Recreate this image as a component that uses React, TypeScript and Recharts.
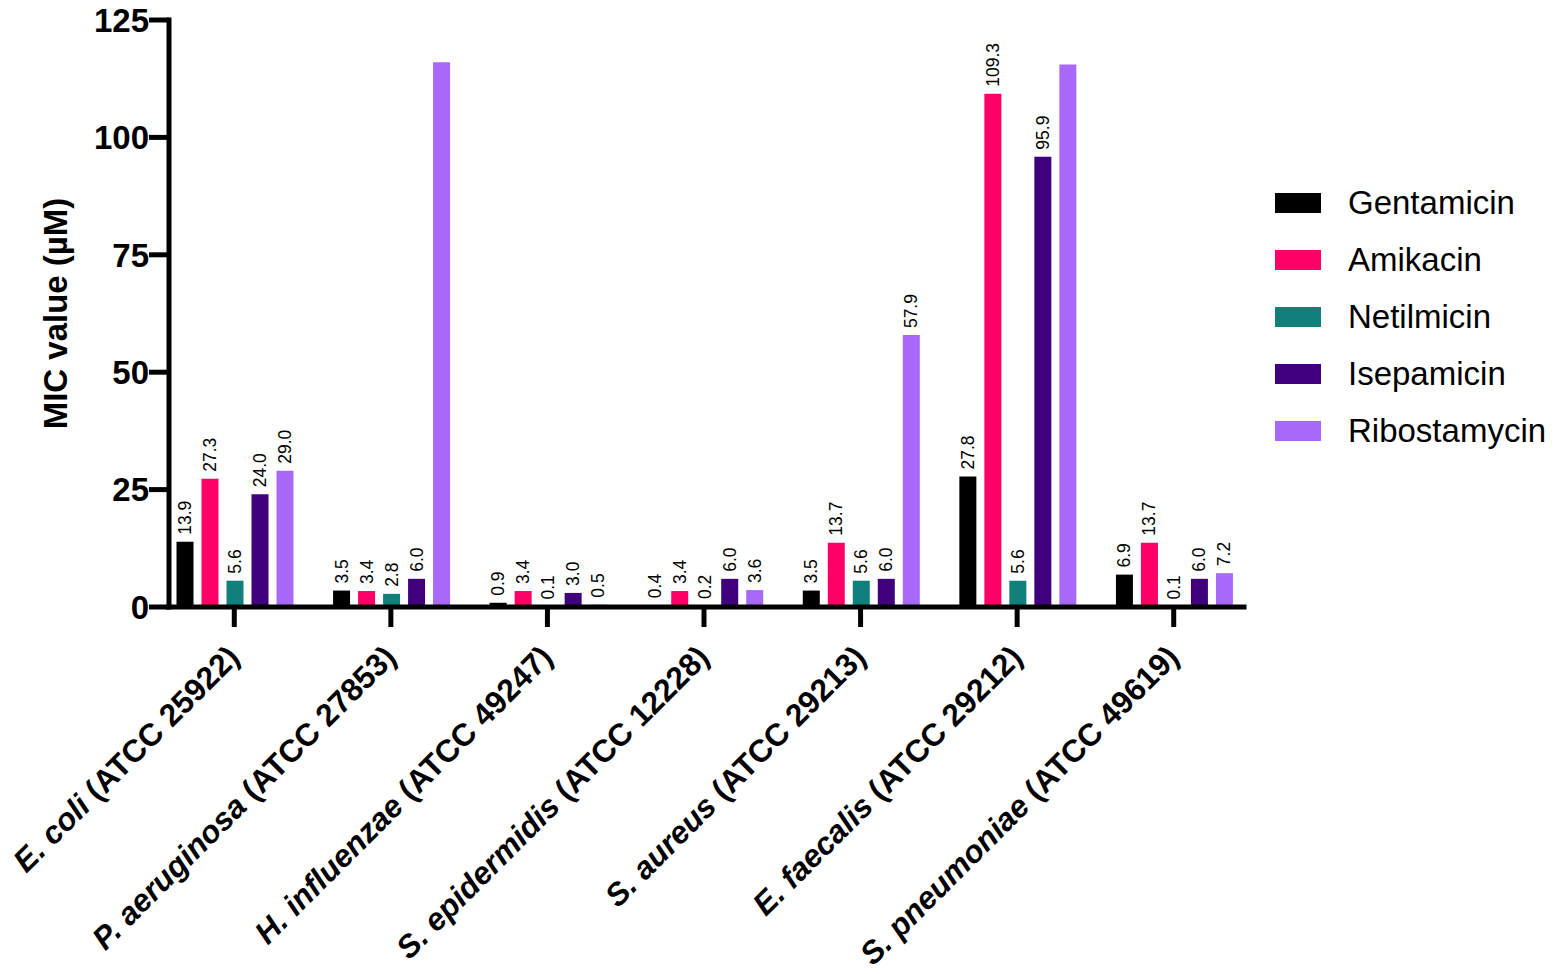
import { BarChart, Bar, XAxis, YAxis, LabelList } from "recharts";

const SPECIES = [
  "E. coli",
  "P. aeruginosa",
  "H. influenzae",
  "S. epidermidis",
  "S. aureus",
  "E. faecalis",
  "S. pneumoniae",
];
const STRAINS = [
  "ATCC 25922",
  "ATCC 27853",
  "ATCC 49247",
  "ATCC 12228",
  "ATCC 29213",
  "ATCC 29212",
  "ATCC 49619",
];

const GENTAMICIN = [13.9, 3.5, 0.9, 0.4, 3.5, 27.8, 6.9];
const AMIKACIN = [27.3, 3.4, 3.4, 3.4, 13.7, 109.3, 13.7];
const NETILMICIN = [5.6, 2.8, 0.1, 0.2, 5.6, 5.6, 0.1];
const ISEPAMICIN = [24.0, 6.0, 3.0, 6.0, 6.0, 95.9, 6.0];
const RIBOSTAMYCIN = [29.0, 116.0, 0.5, 3.6, 57.9, 115.5, 7.2];
// the two off-scale ribostamycin bars carry no value label in the figure
const RIBOSTAMYCIN_LABELLED = [true, false, true, true, true, false, true];

const Y_TICKS = [0, 25, 50, 75, 100, 125];

const SERIES = [
  { key: "gentamicin", name: "Gentamicin", color: "#000000" },
  { key: "amikacin", name: "Amikacin", color: "#FF0066" },
  { key: "netilmicin", name: "Netilmicin", color: "#11807B" },
  { key: "isepamicin", name: "Isepamicin", color: "#40007E" },
  { key: "ribostamycin", name: "Ribostamycin", color: "#A868F8" },
];

const data = SPECIES.map((species, i) => ({
  name: species,
  species,
  strain: STRAINS[i],
  gentamicin: GENTAMICIN[i],
  amikacin: AMIKACIN[i],
  netilmicin: NETILMICIN[i],
  isepamicin: ISEPAMICIN[i],
  ribostamycin: RIBOSTAMYCIN[i],
}));

const FONT = "Arial, 'Liberation Sans', Helvetica, sans-serif";

function SpeciesTick(props: any) {
  const { x, y, payload, index } = props;
  return (
    <g transform={`translate(${x + 7},${y + 32})`}>
      <text
        transform="rotate(-45)"
        textAnchor="end"
        fontSize={31.5}
        fontWeight="bold"
        fontFamily={FONT}
        fill="#000"
      >
        <tspan fontStyle="italic">{payload.value}</tspan>
        {` (${STRAINS[index]})`}
      </text>
    </g>
  );
}

function valueLabel(show?: boolean[]) {
  return (props: any) => {
    const { x, y, width, value, index } = props;
    if (show && !show[index]) return null;
    const cx = Number(x) + Number(width) / 2;
    const ty = Number(y) - 7;
    return (
      <text
        x={cx}
        y={ty}
        transform={`rotate(-90 ${cx} ${ty})`}
        textAnchor="start"
        dominantBaseline="central"
        fontSize={17.5}
        fontFamily={FONT}
        fill="#000"
      >
        {Number(value).toFixed(1)}
      </text>
    );
  };
}

function YTitle(props: any) {
  const { viewBox } = props;
  const cy = viewBox.y + viewBox.height / 2;
  return (
    <text
      x={55}
      y={cy}
      transform={`rotate(-90 55 ${cy})`}
      textAnchor="middle"
      dominantBaseline="central"
      fontSize={33}
      fontWeight="bold"
      fontFamily={FONT}
      fill="#000"
    >
      MIC value (µM)
    </text>
  );
}

export default function App() {
  return (
    <div style={{ position: "relative", width: 1559, height: 974, background: "#fff" }}>
      <style>{"body{margin:0}"}</style>
      <BarChart
        width={1559}
        height={974}
        data={data}
        margin={{ top: 20, right: 315, bottom: 0, left: 0 }}
        barGap={8}
        barCategoryGap={20.5}
      >
        <XAxis
          dataKey="name"
          height={367}
          interval={0}
          padding={{ left: -13, right: -8 }}
          axisLine={{ stroke: "#000", strokeWidth: 5, strokeLinecap: "square" }}
          tickLine={{ stroke: "#000", strokeWidth: 5 }}
          tickSize={20}
          tickMargin={0}
          tick={<SpeciesTick />}
        />
        <YAxis
          width={169}
          domain={[0, 125]}
          ticks={Y_TICKS}
          interval={0}
          axisLine={{ stroke: "#000", strokeWidth: 5, strokeLinecap: "square" }}
          tickLine={{ stroke: "#000", strokeWidth: 5 }}
          tickSize={20}
          tickMargin={0}
          tick={{ fill: "#000", fontSize: 33, fontWeight: "bold", fontFamily: FONT }}
          label={{ content: <YTitle /> }}
        />
        {SERIES.map((s) => (
          <Bar key={s.key} dataKey={s.key} name={s.name} fill={s.color} isAnimationActive={false}>
            <LabelList
              dataKey={s.key}
              content={valueLabel(s.key === "ribostamycin" ? RIBOSTAMYCIN_LABELLED : undefined)}
            />
          </Bar>
        ))}
      </BarChart>
      <div style={{ position: "absolute", left: 1275, top: 174, fontFamily: FONT }}>
        {SERIES.map((s) => (
          <div key={s.key} style={{ display: "flex", alignItems: "center", height: 57 }}>
            <div style={{ width: 46, height: 20, background: s.color, marginRight: 27 }} />
            <span style={{ fontSize: 33, color: "#000", whiteSpace: "nowrap" }}>{s.name}</span>
          </div>
        ))}
      </div>
    </div>
  );
}
